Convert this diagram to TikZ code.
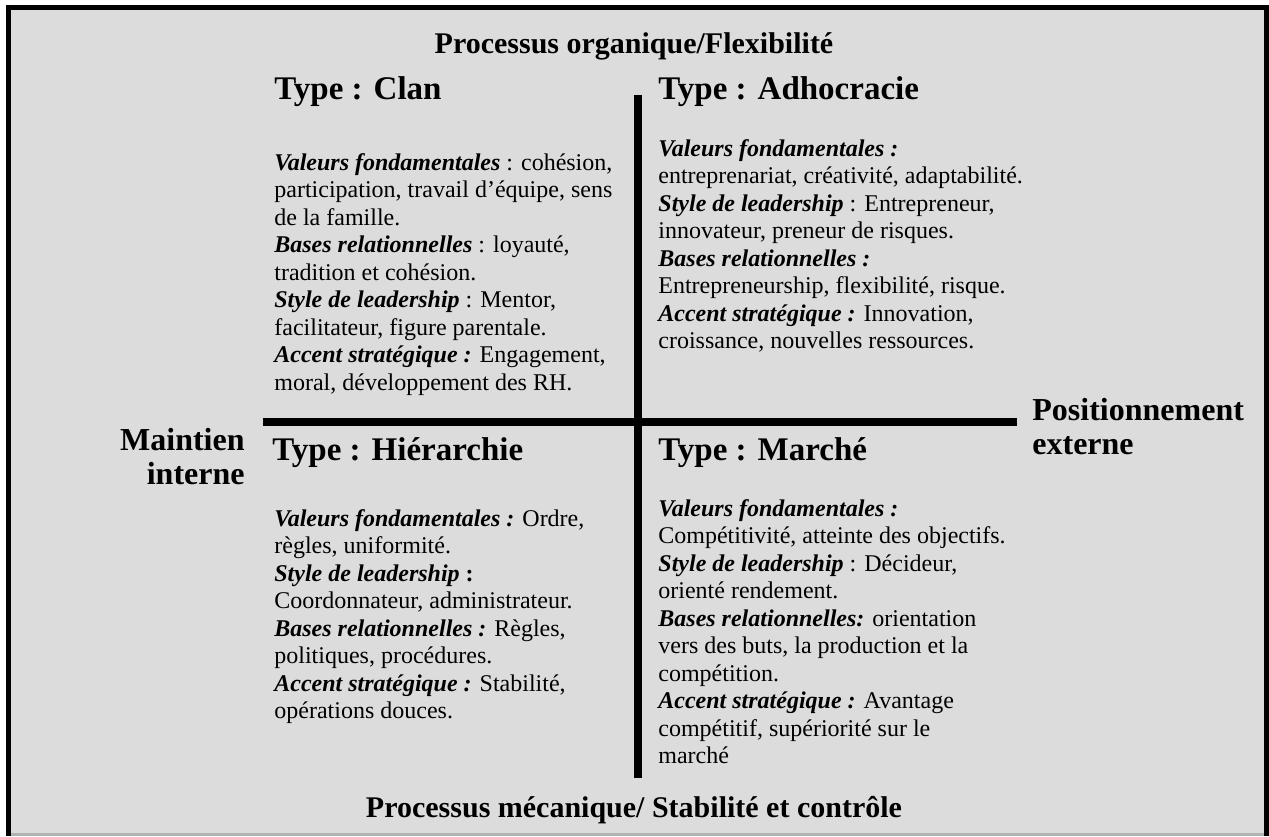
\documentclass[tikz,border=0pt]{standalone}
\usepackage{fontspec}
\setmainfont{Liberation Serif}
\usetikzlibrary{positioning}
\definecolor{panelgray}{RGB}{220,220,220}
\newcommand{\qlabel}[1]{\textbf{\textit{#1}}}

\begin{document}
\begin{tikzpicture}[x=0.5pt,y=-0.5pt,
  axistitle/.style={font=\fontsize{15}{17}\selectfont\bfseries},
  axisside/.style={font=\fontsize{16}{17}\selectfont\bfseries},
  typehead/.style={font=\fontsize{16.5}{19}\selectfont\bfseries, anchor=base west},
  typebody/.style={font=\fontsize{12}{13.75}\selectfont, align=left, anchor=north west}]
\tikzstyle{every node}+=[inner sep=0pt]
\useasboundingbox (0,0) rectangle (1269,836);
% frame
\fill [panelgray] (11,10) rectangle (1264,836);
\fill [black] (6,5) rectangle (1269,10);
\fill [black] (6,5) rectangle (11,836);
\fill [black] (1264,5) rectangle (1269,836);
\draw [black!30, line width=1.5] (11,834.5) -- (1264,834.5);
% axes
\fill [black] (634,95) rectangle (642,778);
\fill [black] (263,418) rectangle (1017,426);
% axis labels
\node (top) [axistitle, anchor=base] at (634,53) {Processus organique/Flexibilité};
\node (bottom) [axistitle, anchor=base] at (634,817) {Processus mécanique/ Stabilité et contrôle};
\node (left) [axisside, align=right, anchor=north east] at (245,428) {Maintien\\interne};
\node (right) [axisside, align=left, anchor=north west] at (1032,398) {Positionnement\\externe};
% clan
\node (clanT) [typehead] at (274,99) {Type : Clan};
\node (clanB) [typebody] at (274,153) {\qlabel{Valeurs fondamentales} : cohésion,\\
participation, travail d’équipe, sens\\
de la famille.\\
\qlabel{Bases relationnelles} : loyauté,\\
tradition et cohésion.\\
\qlabel{Style de leadership} : Mentor,\\
facilitateur, figure parentale.\\
\qlabel{Accent stratégique :} Engagement,\\
moral, développement des RH.};
% adhocracie
\node (adhoT) [typehead] at (658,99) {Type : Adhocracie};
\node (adhoB) [typebody] at (658,139) {\qlabel{Valeurs fondamentales :}\\
entreprenariat, créativité, adaptabilité.\\
\qlabel{Style de leadership} : Entrepreneur,\\
innovateur, preneur de risques.\\
\qlabel{Bases relationnelles :}\\
Entrepreneurship, flexibilité, risque.\\
\qlabel{Accent stratégique :} Innovation,\\
croissance, nouvelles ressources.};
% hierarchie
\node (hierT) [typehead] at (272,460) {Type : Hiérarchie};
\node (hierB) [typebody] at (274,509) {\qlabel{Valeurs fondamentales :} Ordre,\\
règles, uniformité.\\
\qlabel{Style de leadership} \textbf{:}\\
Coordonnateur, administrateur.\\
\qlabel{Bases relationnelles :} Règles,\\
politiques, procédures.\\
\qlabel{Accent stratégique :} Stabilité,\\
opérations douces.};
% marche
\node (markT) [typehead] at (658,460) {Type : Marché};
\node (markB) [typebody] at (658,499) {\qlabel{Valeurs fondamentales :}\\
Compétitivité, atteinte des objectifs.\\
\qlabel{Style de leadership} : Décideur,\\
orienté rendement.\\
\qlabel{Bases relationnelles:} orientation\\
vers des buts, la production et la\\
compétition.\\
\qlabel{Accent stratégique :} Avantage\\
compétitif, supériorité sur le\\
marché};
\end{tikzpicture}
\end{document}
